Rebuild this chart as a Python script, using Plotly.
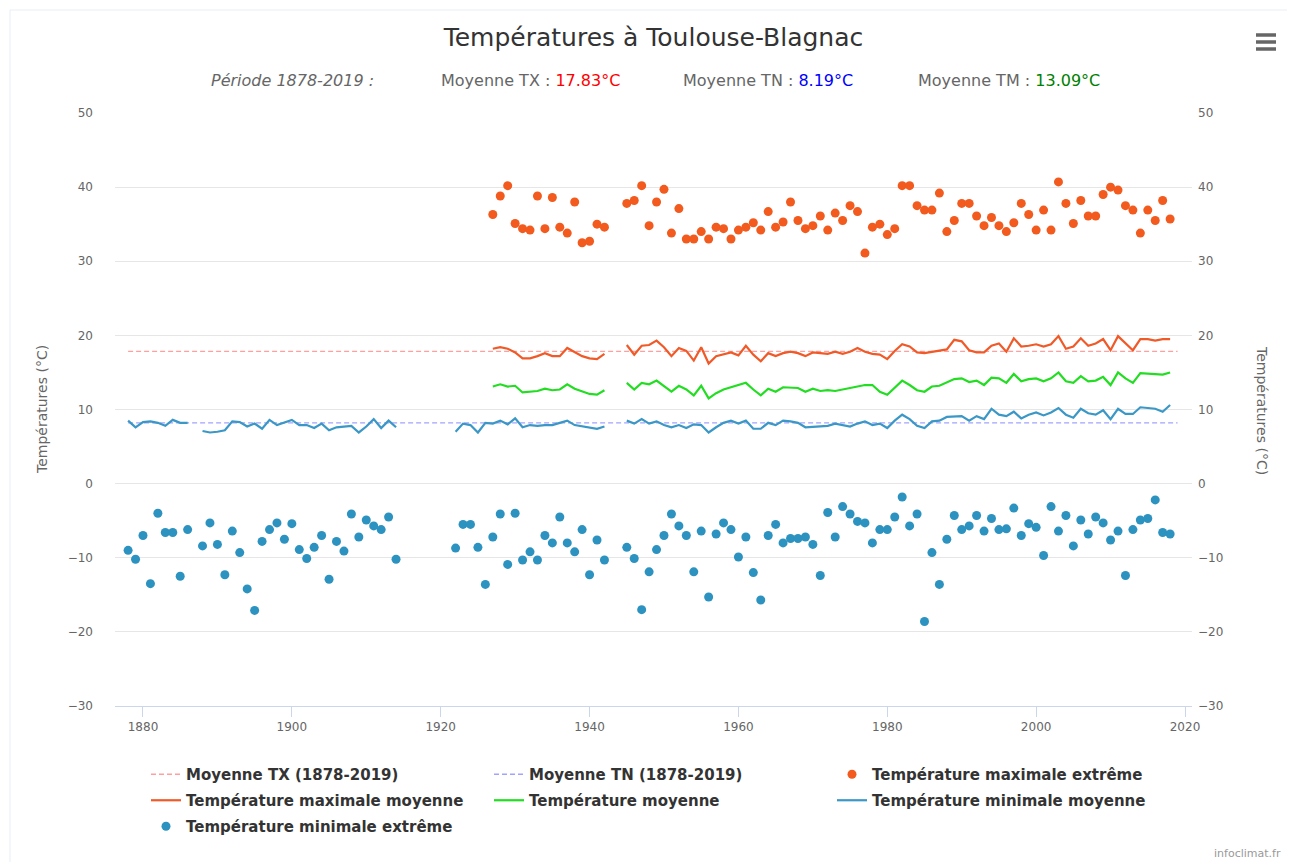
import plotly.graph_objects as go

# ---------------- DATA ----------------
period_label = "Période 1878-2019 :"
mean_tx_period = 17.83
mean_tn_period = 8.19
mean_tm_period = 13.09
period_years = [1878, 2019]

# Température maximale extrême
tx_ext_a_start, tx_ext_a = 1927, [36.3, 38.8, 40.2, 35.1, 34.4, 34.2, 38.8, 34.4, 38.6, 34.6, 33.8, 38.0, 32.5, 32.7, 35.0, 34.6]
tx_ext_b_start, tx_ext_b = 1945, [37.8, 38.2, 40.2, 34.8, 38.0, 39.7, 33.8, 37.1, 33.0, 33.0, 34.0, 33.0, 34.6, 34.4, 33.0,
                                  34.2, 34.6, 35.2, 34.2, 36.7, 34.6, 35.3, 38.0, 35.5, 34.4, 34.8, 36.1, 34.2, 36.5, 35.5,
                                  37.5, 36.7, 31.1, 34.6, 35.0, 33.6, 34.4, 40.2, 40.2, 37.5, 36.9, 36.9, 39.2, 34.0, 35.5,
                                  37.8, 37.8, 36.1, 34.8, 35.9, 34.8, 34.0, 35.2, 37.8, 36.3, 34.2, 36.9, 34.2, 40.7, 37.8,
                                  35.1, 38.2, 36.1, 36.1, 39.0, 40.0, 39.6, 37.5, 36.9, 33.8, 36.9, 35.5, 38.2, 35.7]

# Température maximale moyenne
tx_moy_a_start, tx_moy_a = 1927, [18.2, 18.4, 18.2, 17.7, 16.9, 16.9, 17.2, 17.6, 17.2, 17.2, 18.3, 17.8, 17.2, 16.9, 16.8, 17.5]
tx_moy_b_start, tx_moy_b = 1945, [18.7, 17.4, 18.6, 18.7, 19.3, 18.4, 17.2, 18.3, 17.9, 16.6, 18.4, 16.2, 17.2, 17.5, 17.7,
                                  17.3, 18.6, 17.4, 16.5, 17.6, 17.2, 17.6, 17.8, 17.6, 17.2, 17.7, 17.6, 17.5, 17.8, 17.5,
                                  17.8, 18.3, 17.8, 17.5, 17.4, 16.8, 17.9, 18.8, 18.5, 17.7, 17.6, 17.8, 17.9, 18.1, 19.4,
                                  19.2, 18.0, 17.7, 17.7, 18.6, 18.9, 17.8, 19.6, 18.5, 18.6, 18.8, 18.5, 18.8, 19.9, 18.2,
                                  18.5, 19.6, 18.6, 18.9, 19.5, 18.0, 19.9, 18.9, 18.0, 19.5, 19.5, 19.3, 19.5, 19.5]

# Température moyenne
tm_a_start, tm_a = 1927, [13.1, 13.4, 13.1, 13.2, 12.3, 12.4, 12.5, 12.8, 12.6, 12.7, 13.4, 12.8, 12.4, 12.1, 12.0, 12.6]
tm_b_start, tm_b = 1945, [13.6, 12.7, 13.6, 13.4, 13.9, 13.1, 12.4, 13.2, 12.7, 11.9, 13.2, 11.5, 12.2, 12.7, 13.0,
                          13.2, 13.6, 12.7, 11.9, 12.8, 12.4, 13.0, 13.0, 12.9, 12.4, 12.8, 12.5, 12.6, 12.5, 12.7,
                          12.8, 13.1, 13.3, 13.3, 12.4, 12.0, 12.9, 13.9, 13.3, 12.6, 12.4, 13.1, 13.2, 13.6, 14.1,
                          14.2, 13.7, 13.9, 13.3, 14.3, 14.2, 13.6, 14.8, 13.8, 14.1, 14.2, 13.8, 14.2, 15.0, 13.8,
                          13.6, 14.5, 13.8, 13.9, 14.4, 13.3, 15.0, 14.2, 13.6, 14.9, 14.8, 14.7, 14.7, 15.0]

# Température minimale moyenne
tn_moy_a_start, tn_moy_a = 1878, [8.5, 7.6, 8.3, 8.4, 8.2, 7.8, 8.6, 8.2, 8.2]
tn_moy_b_start, tn_moy_b = 1888, [7.1, 6.9, 7.0, 7.2, 8.4, 8.3, 7.7, 8.1, 7.4, 8.6, 7.9, 8.2, 8.6, 7.9, 7.9, 7.5, 8.1,
                                  7.2, 7.6, 7.7, 7.8, 6.9, 7.7, 8.7, 7.5, 8.5, 7.6]
tn_moy_c_start, tn_moy_c = 1922, [7.0, 8.1, 7.9, 6.9, 8.2, 8.1, 8.5, 8.0, 8.8, 7.6, 7.9, 7.8, 7.9, 7.9, 8.2, 8.5, 7.9,
                                  7.7, 7.5, 7.4, 7.7]
tn_moy_d_start, tn_moy_d = 1945, [8.5, 8.1, 8.7, 8.1, 8.4, 7.9, 7.6, 7.9, 7.5, 8.0, 7.9, 6.9, 7.6, 8.2, 8.5, 8.1, 8.5,
                                  7.4, 7.4, 8.2, 7.9, 8.5, 8.4, 8.2, 7.6, 7.7, 7.8, 7.8, 8.1, 7.9, 7.7, 8.1, 8.4, 7.9,
                                  8.1, 7.5, 8.5, 9.3, 8.7, 7.8, 7.5, 8.4, 8.5, 9.0, 9.1, 9.1, 8.5, 9.1, 8.7, 10.1, 9.3,
                                  9.1, 9.7, 8.8, 9.3, 9.6, 9.2, 9.6, 10.2, 9.3, 8.9, 10.1, 9.5, 9.3, 9.9, 8.7, 10.1, 9.4,
                                  9.4, 10.3, 10.2, 10.1, 9.7, 10.6]

# Température minimale extrême
tn_ext_a_start, tn_ext_a = 1878, [-9.0, -10.2, -7.0, -13.5, -4.0, -6.6, -6.6, -12.5, -6.2, None, -8.4, -5.3, -8.2,
                                  -12.3, -6.4, -9.3, -14.2, -17.1, -7.8, -6.2, -5.3, -7.5, -5.4, -8.9, -10.1, -8.6,
                                  -7.0, -12.9, -7.8, -9.1, -4.1, -7.2, -4.9, -5.7, -6.2, -4.5, -10.2]
tn_ext_b_start, tn_ext_b = 1922, [-8.7, -5.5, -5.5, -8.6, -13.6, -7.2, -4.1, -10.9, -4.0, -10.3, -9.2, -10.3, -7.0,
                                  -8.0, -4.5, -8.0, -9.2, -6.2, -12.3, -7.6, -10.3]
tn_ext_c_start, tn_ext_c = 1945, [-8.6, -10.1, -17.0, -11.9, -8.9, -7.0, -4.1, -5.7, -7.0, -11.9, -6.4, -15.3, -6.8,
                                  -5.3, -6.2, -9.9, -7.2, -12.0, -15.7, -7.0, -5.5, -8.0, -7.4, -7.4, -7.2, -8.2,
                                  -12.4, -3.9, -7.2, -3.1, -4.1, -5.1, -5.3, -8.0, -6.2, -6.2, -4.5, -1.8, -5.7, -4.1,
                                  -18.6, -9.3, -13.6, -7.5, -4.3, -6.2, -5.7, -4.3, -6.4, -4.7, -6.2, -6.1, -3.3, -7.0,
                                  -5.4, -5.9, -9.7, -3.1, -6.4, -4.3, -8.4, -4.9, -6.8, -4.5, -5.3, -7.6, -6.4, -12.4,
                                  -6.2, -4.9, -4.7, -2.2, -6.6, -6.8]

y_ticks = [-30, -20, -10, 0, 10, 20, 30, 40, 50]
x_ticks = [1880, 1900, 1920, 1940, 1960, 1980, 2000, 2020]


def join(*segs):
    """Concatenate (start_year, values) segments with None gaps."""
    xs, ys = [], []
    for start, vals in segs:
        if xs:
            xs.append(None)
            ys.append(None)
        xs += [start + i for i in range(len(vals))]
        ys += list(vals)
    return xs, ys


# ---------------- LAYOUT HELPERS (screen pixels) ----------------
OFF = 8                      # page body margin
W, H = 1295 - OFF, 862 - OFF
L, R, T, B = 115, 1192, 113, 706   # plot area in screen pixels


def px(x):
    return (x - L) / (R - L)


def py(y):
    return (B - y) / (B - T)


FONT = "DejaVu Sans"
C_ORANGE = "#F25A1E"
C_ORANGE_LINE = "#F05A28"
C_GREEN = "#22DD22"
C_BLUE_LINE = "#3A97C6"
C_BLUE_PT = "#2C92C0"

fig = go.Figure()

# Row 1 of legend
fig.add_trace(go.Scatter(x=period_years, y=[mean_tx_period] * len(period_years), mode="lines",
                         name="Moyenne TX (1878-2019)", legend="legend",
                         line=dict(color="#FF9F9F", width=1.3, dash="5px,3px")))
fig.add_trace(go.Scatter(x=period_years, y=[mean_tn_period] * len(period_years), mode="lines",
                         name="Moyenne TN (1878-2019)", legend="legend",
                         line=dict(color="#A3A3FF", width=1.3, dash="5px,3px")))
x, y = join((tx_ext_a_start, tx_ext_a), (tx_ext_b_start, tx_ext_b))
fig.add_trace(go.Scatter(x=x, y=y, mode="markers", name="Température maximale extrême", legend="legend",
                         marker=dict(color=C_ORANGE, size=9, line=dict(width=0))))
# Row 2
x, y = join((tx_moy_a_start, tx_moy_a), (tx_moy_b_start, tx_moy_b))
fig.add_trace(go.Scatter(x=x, y=y, mode="lines", name="Température maximale moyenne", legend="legend2",
                         line=dict(color=C_ORANGE_LINE, width=2.2)))
x, y = join((tm_a_start, tm_a), (tm_b_start, tm_b))
fig.add_trace(go.Scatter(x=x, y=y, mode="lines", name="Température moyenne", legend="legend2",
                         line=dict(color=C_GREEN, width=2.2)))
x, y = join((tn_moy_a_start, tn_moy_a), (tn_moy_b_start, tn_moy_b), (tn_moy_c_start, tn_moy_c),
            (tn_moy_d_start, tn_moy_d))
fig.add_trace(go.Scatter(x=x, y=y, mode="lines", name="Température minimale moyenne", legend="legend2",
                         line=dict(color=C_BLUE_LINE, width=2.2)))
# Row 3
x, y = join((tn_ext_a_start, tn_ext_a), (tn_ext_b_start, tn_ext_b), (tn_ext_c_start, tn_ext_c))
fig.add_trace(go.Scatter(x=x, y=y, mode="markers", name="Température minimale extrême", legend="legend3",
                         marker=dict(color=C_BLUE_PT, size=9, line=dict(width=0))))
# invisible trace to carry the right axis
fig.add_trace(go.Scatter(x=period_years, y=[mean_tn_period] * len(period_years), yaxis="y2",
                         mode="lines", line=dict(width=0), opacity=0, showlegend=False, hoverinfo="skip"))

axis_font = dict(family=FONT, size=12, color="#666666")
leg_font = dict(family=FONT, size=15, color="#333333", weight="bold")


def legend_row(ycenter):
    return dict(orientation="h", x=px(146), y=py(ycenter - 13), xanchor="left", yanchor="top",
                entrywidth=298, entrywidthmode="pixels", traceorder="normal",
                font=leg_font, bgcolor="rgba(0,0,0,0)", itemclick=False, itemdoubleclick=False)


fig.update_layout(
    width=W, height=H,
    margin=dict(l=L - OFF, r=W - (R - OFF), t=T - OFF, b=H - (B - OFF), autoexpand=False),
    paper_bgcolor="white", plot_bgcolor="white",
    title=dict(text="Températures à Toulouse-Blagnac", x=0.5, xref="paper", xanchor="center",
               y=1 - (37 - OFF) / H, yref="container", yanchor="middle",
               font=dict(family=FONT, size=25, color="#333333")),
    xaxis=dict(range=[1876.24, 2020.94], tickvals=x_ticks, showgrid=False, zeroline=False,
               showline=True, linecolor="#CCD6EB", linewidth=1,
               ticks="outside", ticklen=10, tickcolor="#CCD6EB", tickfont=axis_font),
    yaxis=dict(range=[-30, 50], tickvals=y_ticks, showgrid=True, gridcolor="#E6E6E6", gridwidth=1,
               zeroline=False, showline=False, tickfont=axis_font, ticklabelstandoff=21),
    yaxis2=dict(range=[-30, 50], tickvals=y_ticks, overlaying="y", side="right", showgrid=False,
                zeroline=False, showline=False, tickfont=axis_font, ticklabelstandoff=5),
    legend=legend_row(771),
    legend2=legend_row(797),
    legend3=legend_row(823),
    showlegend=True,
)

sub_font = dict(family=FONT, size=16, color="#666666")
annots = [
    dict(text="<i>" + period_label + "</i>", x=px(292), y=py(80)),
    dict(text="Moyenne TX : <span style='color:#FF0000'>%.2f°C</span>" % mean_tx_period, x=px(530), y=py(80)),
    dict(text="Moyenne TN : <span style='color:#0000FF'>%.2f°C</span>" % mean_tn_period, x=px(768), y=py(80)),
    dict(text="Moyenne TM : <span style='color:#008000'>%.2f°C</span>" % mean_tm_period, x=px(1009), y=py(80)),
]
for a in annots:
    fig.add_annotation(xref="paper", yref="paper", xanchor="center", yanchor="middle",
                       showarrow=False, font=sub_font, **a)

# axis titles
fig.add_annotation(text="Températures (°C)", xref="paper", yref="paper", x=px(42), y=py(410),
                   textangle=-90, showarrow=False, xanchor="center", yanchor="middle",
                   font=dict(family=FONT, size=14, color="#666666"))
fig.add_annotation(text="Températures (°C)", xref="paper", yref="paper", x=px(1262), y=py(410),
                   textangle=90, showarrow=False, xanchor="center", yanchor="middle",
                   font=dict(family=FONT, size=14, color="#666666"))
# credit
fig.add_annotation(text="infoclimat.fr", xref="paper", yref="paper", x=px(1283), y=py(853),
                   showarrow=False, xanchor="right", yanchor="middle",
                   font=dict(family=FONT, size=11, color="#999999"))

# hamburger menu icon
for yy in (35, 42, 49):
    fig.add_shape(type="line", xref="paper", yref="paper", x0=px(1256), x1=px(1276), y0=py(yy), y1=py(yy),
                  line=dict(color="#666666", width=3.5))
# outer frame
fig.add_shape(type="rect", xref="paper", yref="paper", x0=px(10), x1=px(1300), y0=py(10), y1=py(870),
              line=dict(color="#E8EEF5", width=1))

fig.write_html("out.html")
